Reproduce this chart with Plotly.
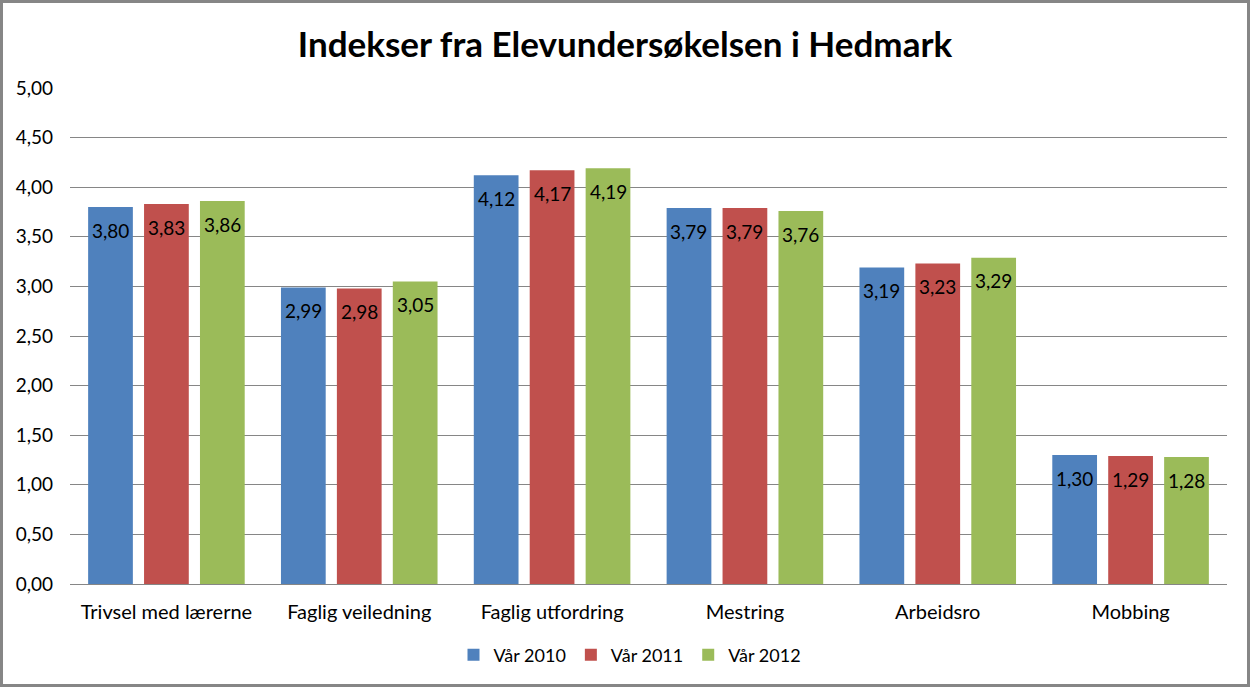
import plotly.graph_objects as go

categories = ["Trivsel med lærerne", "Faglig veiledning", "Faglig utfordring",
              "Mestring", "Arbeidsro", "Mobbing"]
series_names = ["Vår 2010", "Vår 2011", "Vår 2012"]
var_2010 = [3.80, 2.99, 4.12, 3.79, 3.19, 1.30]
var_2011 = [3.83, 2.98, 4.17, 3.79, 3.23, 1.29]
var_2012 = [3.86, 3.05, 4.19, 3.76, 3.29, 1.28]
colors = ["#4F81BD", "#C0504D", "#9BBB59"]

W, H = 1250, 687
ml, mr, mt, mb = 70, 23, 88, 103
font = "Lato, 'Open Sans', sans-serif"
bargap, bargroupgap = 0.13, 0.2

pw = W - ml - mr
ph = H - mt - mb
slot = pw / len(categories) * (1 - bargap) / 3

fig = go.Figure()
annotations = []
for k, (name, vals, col) in enumerate(zip(series_names, [var_2010, var_2011, var_2012], colors)):
    fig.add_trace(go.Bar(
        x=categories, y=vals, name=name, marker=dict(color=col, line=dict(width=0)),
        textposition="none",
    ))
    for c, v in zip(categories, vals):
        annotations.append(dict(
            x=c, y=v, xref="x", yref="y", text=f"{v:.2f}".replace(".", ","),
            showarrow=False, xshift=(k - 1) * slot, yshift=-23,
            font=dict(size=19, color="black", family=font),
            xanchor="center", yanchor="middle",
        ))

fig.update_layout(
    width=W, height=H,
    margin=dict(l=ml, r=mr, t=mt, b=mb, autoexpand=False),
    paper_bgcolor="white", plot_bgcolor="white",
    separators=",.",
    barmode="group", bargap=bargap, bargroupgap=bargroupgap,
    title=dict(text="<b>Indekser fra Elevundersøkelsen i Hedmark</b>",
               x=0.5, xanchor="center", y=1 - 45 / H, yanchor="middle",
               font=dict(size=35, color="black", family=font)),
    font=dict(family=font, size=19, color="black"),
    legend=dict(orientation="h", xref="container", x=630 / W, xanchor="center",
                y=-(655 - 584) / ph, yanchor="middle",
                font=dict(size=18, family=font), traceorder="normal"),
    xaxis=dict(showgrid=False, showline=True, linecolor="#868686", linewidth=1,
               ticks="", automargin=False, ticklabelstandoff=10,
               tickfont=dict(size=20, family=font)),
    yaxis=dict(range=[0, 5], dtick=0.5, tickformat=".2f", showgrid=True,
               gridcolor="#868686", gridwidth=1, zeroline=False, showline=False,
               ticks="", automargin=False, ticklabelstandoff=16,
               tickfont=dict(size=19, family=font)),
    annotations=annotations,
    shapes=[dict(type="rect", xref="paper", yref="paper",
                 x0=-(ml - 1.5) / pw, x1=1 + (mr - 1.5) / pw,
                 y0=-(mb - 1.5) / ph, y1=1 + (mt - 1.5) / ph,
                 line=dict(color="#868686", width=3), fillcolor="rgba(0,0,0,0)")],
)
fig.write_html("out.html", config={"displayModeBar": False},
               post_script="document.body.style.margin='0';")
